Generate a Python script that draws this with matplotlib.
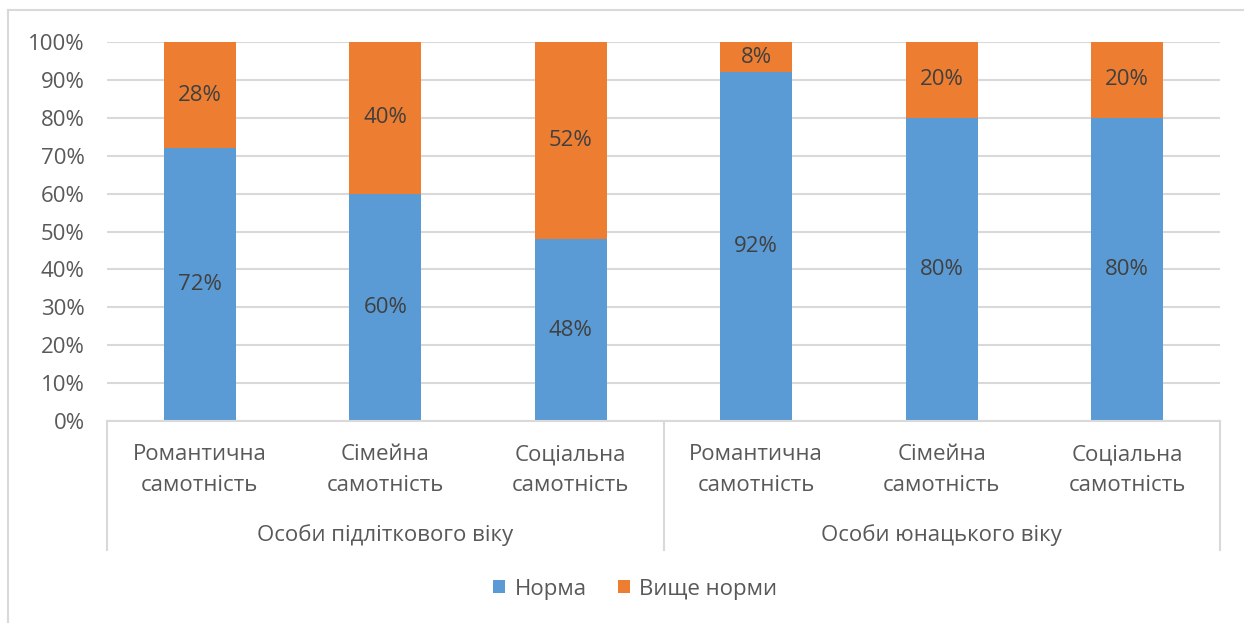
import matplotlib.pyplot as plt
import matplotlib.transforms as mtransforms
from matplotlib.lines import Line2D
import numpy as np

plt.rcParams['font.family'] = ['Open Sans', 'DejaVu Sans']

groups = ['Особи підліткового віку', 'Особи юнацького віку']
categories = ['Романтична\nсамотність', 'Сімейна\nсамотність', 'Соціальна\nсамотність'] * 2
norm = [72, 60, 48, 92, 80, 80]
above = [28, 40, 52, 8, 20, 20]
series_names = ['Норма', 'Вище норми']

blue = '#5B9BD5'
orange = '#ED7D31'
text_col = '#595959'
grid_col = '#D9D9D9'
fs = 16

W, H = 1244, 623
fig = plt.figure(figsize=(W / 100, H / 100), dpi=100)
ax = fig.add_axes([107 / W, 1 - 421 / H, (1220 - 107) / W, (421 - 42) / H])

x = np.arange(len(norm))
b1 = ax.bar(x, norm, width=0.39, color=blue, label=series_names[0], zorder=2)
b2 = ax.bar(x, above, width=0.39, bottom=norm, color=orange, label=series_names[1], zorder=2)

for bars, vals, base in ((b1, norm, np.zeros(len(norm))), (b2, above, norm)):
    for rect, v, b in zip(bars, vals, base):
        ax.text(rect.get_x() + rect.get_width() / 2, b + v / 2, f'{v}%',
                ha='center', va='center', fontsize=fs, color='#404040')

ax.set_xlim(-0.5, len(norm) - 0.5)
ax.set_ylim(0, 100)
ax.set_yticks(np.arange(0, 101, 10))
ax.set_yticklabels([f'{t}%' for t in range(0, 101, 10)])
ax.tick_params(axis='y', length=0, labelsize=fs, labelcolor=text_col, pad=16)
ax.set_xticks([])
ax.yaxis.grid(True, color=grid_col, linewidth=1.5, zorder=0)
for side in ('top', 'right', 'left'):
    ax.spines[side].set_visible(False)
ax.spines['bottom'].set_color(grid_col)
ax.spines['bottom'].set_linewidth(1.5)

# two-level category axis
trans = mtransforms.blended_transform_factory(ax.transData, ax.transAxes)
px = 1 / (421 - 42)
for i, lab in enumerate(categories):
    ax.text(i, -49 * px, lab, transform=trans, ha='center', va='center',
            fontsize=fs, color=text_col, linespacing=1.6)
for g, name in enumerate(groups):
    ax.text(g * 3 + 1, -114 * px, name, transform=trans, ha='center', va='center',
            fontsize=fs, color=text_col)
for sx in (-0.5, 2.5, 5.5):
    ax.plot([sx, sx], [0, -129 * px], transform=trans, color=grid_col,
            linewidth=1.5, clip_on=False)

ax.legend(loc='center', bbox_to_anchor=(635 / W, 1 - 589 / H),
          bbox_transform=fig.transFigure, ncol=2, frameon=False,
          fontsize=fs, labelcolor=text_col, handlelength=0.55, handleheight=0.55,
          handletextpad=0.4, columnspacing=1.4)

# chart frame
fig.add_artist(Line2D([8 / W, 8 / W], [0, 1 - 10 / H], color=grid_col, linewidth=1.5))
fig.add_artist(Line2D([8 / W, 1], [1 - 10 / H, 1 - 10 / H], color=grid_col, linewidth=1.5))

fig.savefig('out.png', dpi=100)
